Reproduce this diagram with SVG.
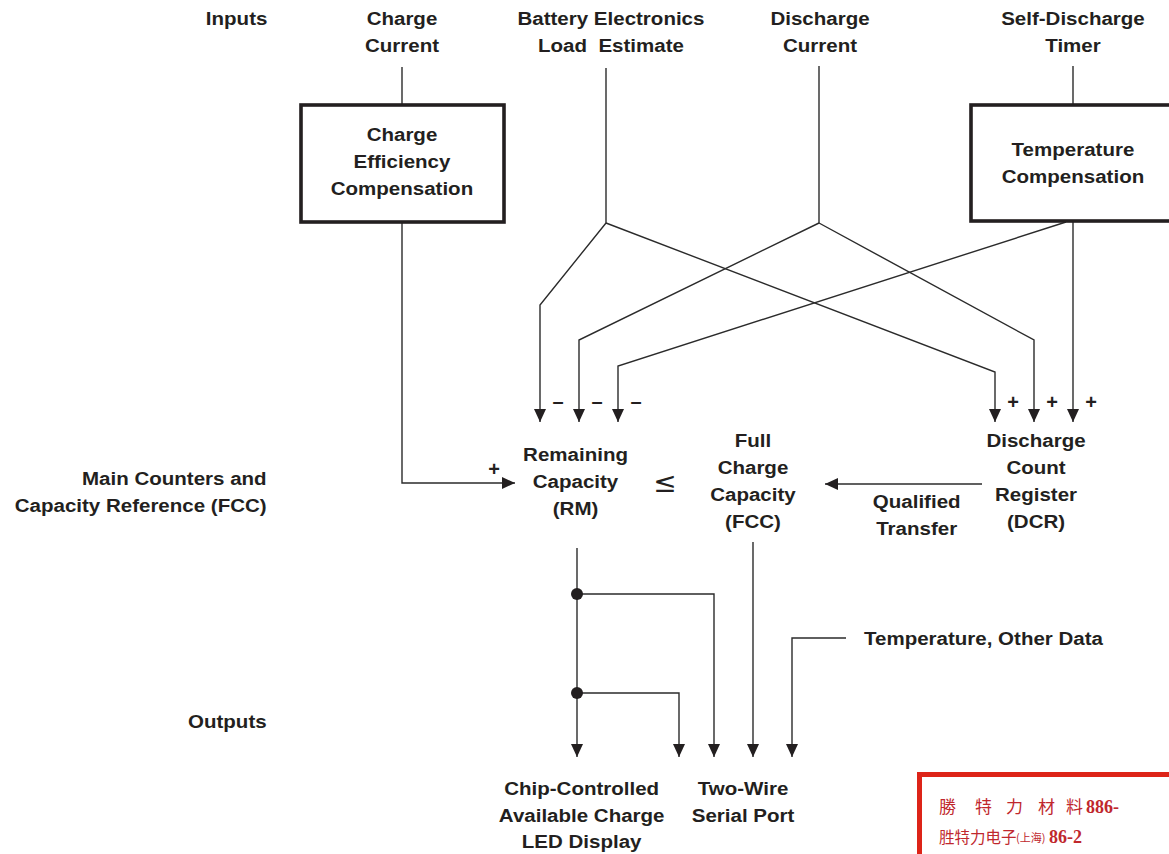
<svg xmlns="http://www.w3.org/2000/svg" width="1169" height="854" viewBox="0 0 1169 854">
<style>
.t{font-family:"Liberation Sans",Arial,sans-serif;font-weight:bold;font-size:19px;fill:#231f20;text-anchor:middle}
.e{text-anchor:end}
.s{text-anchor:start}
.sg{font-family:"Liberation Sans",Arial,sans-serif;font-weight:bold;font-size:20px;fill:#231f20;text-anchor:middle}
.ln{fill:none;stroke:#2b2b2b;stroke-width:1.4}
.box{fill:#fff;stroke:#231f20;stroke-width:3.6}
.cj{font-family:"Noto Sans CJK TC","Noto Sans CJK SC",serif;fill:#c0272d}
.nm{font-family:"Liberation Serif",serif;font-weight:bold;fill:#c0272d}
</style>
<defs>
<marker id="ah" markerUnits="userSpaceOnUse" markerWidth="13" markerHeight="12" refX="13" refY="6" orient="auto">
<path d="M0,0 L13,6 L0,12 Z" fill="#231f20"/>
</marker>
</defs>
<rect width="1169" height="854" fill="#fff"/>

<g id="connectors">
<polyline class="ln" points="402,67 402,105"/>
<polyline class="ln" points="402,222 402,483 515,483" marker-end="url(#ah)"/>
<polyline class="ln" points="606,68 606,223"/>
<polyline class="ln" points="606,223 540,305 540,422" marker-end="url(#ah)"/>
<polyline class="ln" points="606,223 995,372 995,422" marker-end="url(#ah)"/>
<polyline class="ln" points="819,66 819,223"/>
<polyline class="ln" points="819,223 579,340 579,422" marker-end="url(#ah)"/>
<polyline class="ln" points="819,223 1034,340 1034,422" marker-end="url(#ah)"/>
<polyline class="ln" points="1073,66 1073,105"/>
<polyline class="ln" points="1073,222 1073,422" marker-end="url(#ah)"/>
<polyline class="ln" points="1066,222 618,366 618,422" marker-end="url(#ah)"/>
<polyline class="ln" points="982,484 825,484" marker-end="url(#ah)"/>
<polyline class="ln" points="577,548 577,757" marker-end="url(#ah)"/>
<polyline class="ln" points="577,594 714,594 714,757" marker-end="url(#ah)"/>
<polyline class="ln" points="577,693 679,693 679,757" marker-end="url(#ah)"/>
<polyline class="ln" points="753,542 753,757" marker-end="url(#ah)"/>
<polyline class="ln" points="846,638 792,638 792,757" marker-end="url(#ah)"/>
<circle cx="577" cy="594" r="6" fill="#231f20"/>
<circle cx="577" cy="693" r="6" fill="#231f20"/>
</g>

<g id="charge-efficiency">
<rect class="box" x="301" y="105" width="203" height="117"/>
</g>
<g id="temperature-compensation">
<rect class="box" x="971" y="105" width="230" height="116"/>
</g>

<g id="signs">
<text class="sg" x="558" y="408">–</text>
<text class="sg" x="597" y="408">–</text>
<text class="sg" x="636" y="408">–</text>
<text class="sg" x="1013" y="409">+</text>
<text class="sg" x="1052" y="409">+</text>
<text class="sg" x="1091" y="409">+</text>
<text class="sg" x="494" y="476">+</text>
<text x="665" y="492" font-family="DejaVu Sans,sans-serif" font-size="28" fill="#231f20" text-anchor="middle">≤</text>
</g>

<g id="labels" transform="scale(1.08 1)">
<g id="inputs"><text class="t" x="219.1" y="25">Inputs</text></g>
<g id="charge-current"><text class="t" x="372.2" y="25">Charge</text><text class="t" x="372.2" y="52">Current</text></g>
<g id="battery-load"><text class="t" x="565.7" y="25">Battery Electronics</text><text class="t" x="565.7" y="52" xml:space="preserve">Load  Estimate</text></g>
<g id="discharge-current"><text class="t" x="759.3" y="25">Discharge</text><text class="t" x="759.3" y="52">Current</text></g>
<g id="self-discharge"><text class="t" x="993.5" y="25">Self-Discharge</text><text class="t" x="993.5" y="52">Timer</text></g>
<g id="cec-text"><text class="t" x="372.2" y="141">Charge</text><text class="t" x="372.2" y="168">Efficiency</text><text class="t" x="372.2" y="195">Compensation</text></g>
<g id="tc-text"><text class="t" x="993.5" y="156">Temperature</text><text class="t" x="993.5" y="183">Compensation</text></g>
<g id="rm"><text class="t" x="532.9" y="461">Remaining</text><text class="t" x="532.9" y="488">Capacity</text><text class="t" x="532.9" y="515">(RM)</text></g>
<g id="fcc"><text class="t" x="697.2" y="447">Full</text><text class="t" x="697.2" y="474">Charge</text><text class="t" x="697.2" y="501">Capacity</text><text class="t" x="697.2" y="528">(FCC)</text></g>
<g id="dcr"><text class="t" x="959.3" y="447">Discharge</text><text class="t" x="959.3" y="474">Count</text><text class="t" x="959.3" y="501">Register</text><text class="t" x="959.3" y="528">(DCR)</text></g>
<g id="qualified"><text class="t" x="848.8" y="508">Qualified</text><text class="t" x="848.8" y="535">Transfer</text></g>
<g id="main-counters"><text class="t e" x="246.9" y="485">Main Counters and</text><text class="t e" x="246.9" y="512">Capacity Reference (FCC)</text></g>
<g id="outputs"><text class="t e" x="246.9" y="728">Outputs</text></g>
<g id="led"><text class="t" x="538.6" y="795">Chip-Controlled</text><text class="t" x="538.6" y="822">Available Charge</text><text class="t" x="538.6" y="848">LED Display</text></g>
<g id="serial"><text class="t" x="688" y="795">Two-Wire</text><text class="t" x="688" y="822">Serial Port</text></g>
<g id="temp-data"><text class="t s" x="800" y="645">Temperature, Other Data</text></g>
</g>

<g id="stamp">
<rect x="919.5" y="774.5" width="300" height="120" fill="#fff" stroke="#dd2418" stroke-width="5"/>
<text class="cj" font-size="17" y="813"><tspan x="939">勝</tspan><tspan x="975">特</tspan><tspan x="1006">力</tspan><tspan x="1038">材</tspan><tspan x="1066">料</tspan></text>
<text class="nm" font-size="18" x="1086" y="813">886-</text>
<text class="cj" font-size="15.5" x="939" y="843">胜特力电子</text>
<text class="cj" font-size="11" x="1016" y="842">(上海)</text>
<text class="nm" font-size="18" x="1049" y="843">86-2</text>
</g>
</svg>
